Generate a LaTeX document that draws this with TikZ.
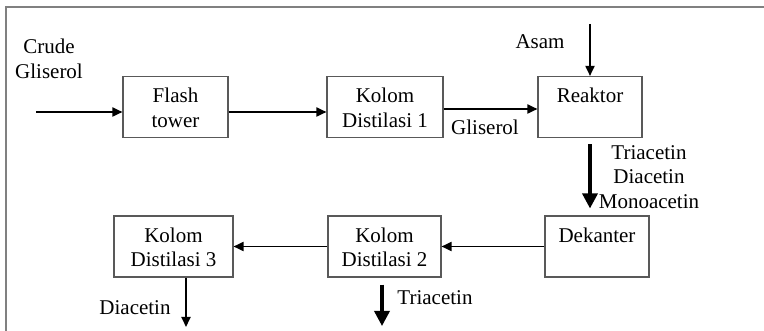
\documentclass[tikz,border=0pt]{standalone}
\usepackage{fontspec}
\setmainfont{Liberation Serif}
\usetikzlibrary{arrows.meta,calc}
\begin{document}
\begin{tikzpicture}[x=1pt,y=-1pt,
  font=\fontsize{21}{24.5}\selectfont,
  unitbox/.style={draw=black!65, line width=1.1pt, inner sep=0pt, minimum height=61pt},
  boxtext/.style={anchor=north, inner sep=0pt, align=center, yshift=-12pt},
  lbl/.style={inner sep=0pt, align=center},
  flow/.style={line width=1.8pt, -{Triangle[length=10pt,width=9pt]}},
  bigflow/.style={line width=3.4pt, -{Triangle[length=15pt,width=15pt]}}]
\useasboundingbox (0,0) rectangle (764,331);

% frame
\draw[black!50, line width=1.3pt] (6,331) -- (6,7) -- (764,7);

% process units
\node[unitbox, minimum width=105pt] (flash)   at (175.5,107) {};
\node[unitbox, minimum width=116pt] (kolom1)  at (385,107)   {};
\node[unitbox, minimum width=104pt] (reaktor) at (590,107)   {};
\node[unitbox, minimum width=104pt] (dekanter) at (597,246.5) {};
\node[unitbox, minimum width=113pt] (kolom2)  at (384.5,246.5) {};
\node[unitbox, minimum width=119pt] (kolom3)  at (173.5,246.5) {};

\node[boxtext] (flashtxt)   at (flash.north)    {Flash\\tower};
\node[boxtext] (kolom1txt)  at (kolom1.north)   {Kolom\\Distilasi 1};
\node[boxtext] (reaktortxt) at (reaktor.north)  {Reaktor};
\node[boxtext] (dekantertxt) at (dekanter.north) {Dekanter};
\node[boxtext] (kolom2txt)  at (kolom2.north)   {Kolom\\Distilasi 2};
\node[boxtext] (kolom3txt)  at (kolom3.north)   {Kolom\\Distilasi 3};

% stream ends
\coordinate (crudein) at (36,112);
\coordinate (asamin)  at (590,24);
\coordinate (diaout)  at (186,327);
\coordinate (triout)  at (382,326);

% streams
\draw[flow] (crudein) -- (crudein -| flash.west);
\draw[flow] ($(flash.east)+(0,5)$) -- ($(kolom1.west)+(0,5)$);
\draw[flow] ($(kolom1.east)+(0,2)$) -- ($(reaktor.west)+(0,2)$);
\draw[flow] (asamin) -- (reaktor.north);
\draw[bigflow, shorten <=6pt, shorten >=7pt] (reaktor.south) -- (reaktor.south |- dekanter.north);
\draw[flow] (dekanter.west) -- (kolom2.east);
\draw[flow] (kolom2.west) -- (kolom3.east);
\draw[flow] (diaout |- kolom3.south) -- (diaout);
\draw[bigflow, shorten <=7pt] (triout |- kolom2.south) -- (triout);

% stream labels
\node[lbl] (crudelbl) at (49,59)  {Crude\\Gliserol};
\node[lbl] (asamlbl)  at (540,42) {Asam};
\node[lbl] (glilbl)   at (485,127) {Gliserol};
\node[lbl] (prodlbl)  at (649,177) {Triacetin\\Diacetin\\Monoacetin};
\node[lbl] (dialbl)   at (135,308) {Diacetin};
\node[lbl] (trilbl)   at (435,298) {Triacetin};
\end{tikzpicture}
\end{document}
